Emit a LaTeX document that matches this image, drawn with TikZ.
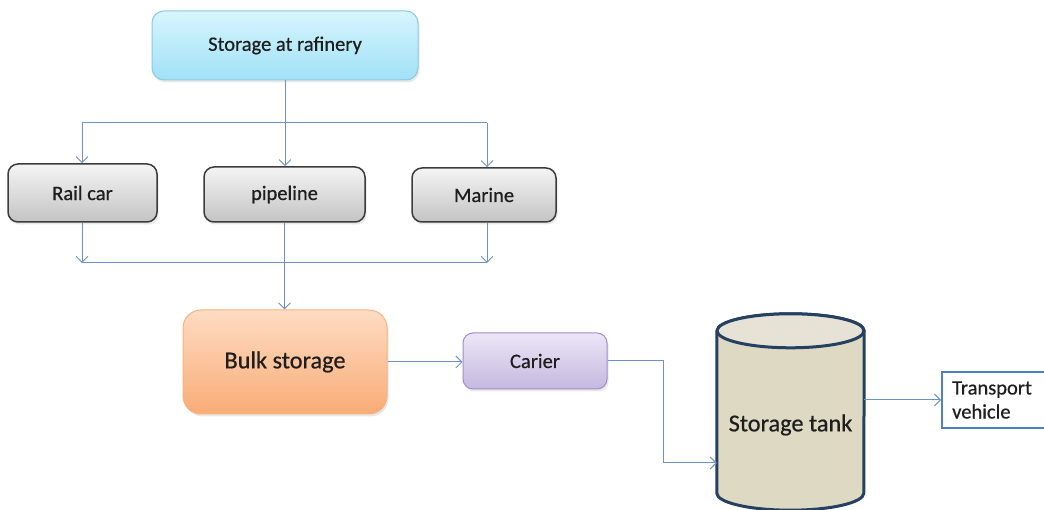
\documentclass[tikz,border=0pt]{standalone}
\usepackage{fontspec}
\setmainfont{Carlito}
\newfontface\diagfont{Carlito}[FakeBold=0.6]
\usetikzlibrary{arrows.meta,shadows}

\definecolor{linkblue}{RGB}{110,145,200}
\definecolor{inkdark}{RGB}{30,30,30}
\definecolor{cyantop}{RGB}{215,245,253}
\definecolor{cyanbot}{RGB}{160,225,247}
\definecolor{cyanrim}{RGB}{140,200,222}
\definecolor{graytop}{RGB}{244,244,244}
\definecolor{graybot}{RGB}{196,196,196}
\definecolor{grayrim}{RGB}{60,60,60}
\definecolor{orgtop}{RGB}{253,220,195}
\definecolor{orgbot}{RGB}{249,172,118}
\definecolor{orgrim}{RGB}{246,180,125}
\definecolor{purtop}{RGB}{236,230,246}
\definecolor{purbot}{RGB}{198,184,224}
\definecolor{purrim}{RGB}{160,142,198}
\definecolor{tankfill}{RGB}{221,217,195}
\definecolor{tanktop}{RGB}{230,227,214}
\definecolor{tankrim}{RGB}{37,64,97}
\definecolor{vehrim}{RGB}{79,129,189}

\tikzset{
  smalltext/.style={font=\diagfont\fontsize{20.5}{24}\selectfont, text=inkdark},
  bigtext/.style={font=\diagfont\fontsize{24.3}{28}\selectfont, text=inkdark},
  softshadow/.style={drop shadow={opacity=0.18, shadow xshift=1.5pt, shadow yshift=-2.5pt}},
  box/.style={draw, inner sep=0pt, shading angle=0, softshadow},
  topbox/.style={box, smalltext, rounded corners=12pt, line width=1pt,
    draw=cyanrim, top color=cyantop, bottom color=cyanbot},
  graybox/.style={box, smalltext, rounded corners=10pt, line width=1.5pt,
    draw=grayrim, top color=graytop, bottom color=graybot},
  bulkbox/.style={box, bigtext, rounded corners=18pt, line width=1pt,
    draw=orgrim, top color=orgtop, bottom color=orgbot},
  carbox/.style={box, smalltext, rounded corners=10pt, line width=1pt,
    draw=purrim, top color=purtop, bottom color=purbot},
  vehbox/.style={draw=vehrim, line width=2pt, fill=white, inner sep=0pt},
  tankline/.style={draw=tankrim, line width=3pt, line join=round},
  link/.style={draw=linkblue, line width=1pt},
  arrowlink/.style={link, -{Straight Barb[length=6pt,width=12pt]}},
}

\begin{document}
\begin{tikzpicture}[x=1pt,y=1pt]
\useasboundingbox (0,0) rectangle (1044,510);
\clip (0,0) rectangle (1044,510);

% ---- boxes ----
\node[topbox, minimum width=266pt, minimum height=69pt] (refinery) at (285,464.5) {Storage at rafinery};

\node[graybox, minimum width=149pt, minimum height=58pt] (rail) at (82.5,317) {Rail car};
\node[graybox, minimum width=161pt, minimum height=55pt] (pipe) at (284.5,315.5) {pipeline};
\node[graybox, minimum width=144pt, minimum height=54pt] (marine) at (484,315) {Marine};

\node[bulkbox, minimum width=204pt, minimum height=104pt] (bulk) at (285,148) {Bulk storage};
\node[carbox, minimum width=144pt, minimum height=56pt] (carier) at (535,149) {Carier};

% ---- storage tank (cylinder) ----
\node[minimum width=147pt, minimum height=162pt, inner sep=0pt] (tank) at (790.5,98) {};
\path[tankline, fill=tankfill]
  (tank.north west) -- (tank.south west)
  arc[start angle=180, end angle=360, x radius=73.5, y radius=17]
  -- (tank.north east)
  arc[start angle=0, end angle=180, x radius=73.5, y radius=17] -- cycle;
\path[tankline, fill=tanktop] (tank.north) ellipse[x radius=73.5, y radius=17];
\node[bigtext] (tanklabel) at (790.5,85) {Storage tank};

\node[vehbox, minimum width=106pt, minimum height=56pt] (vehicle) at (995,110) {};
\node[smalltext, anchor=west, align=left, inner sep=0pt] (vehlabel) at (952,110) {Transport\\vehicle};

% ---- distribution from the refinery ----
\coordinate (jl) at (82,387);
\coordinate (jr) at (487,387);
\draw[arrowlink] (refinery.south) -- (refinery.south |- pipe.north);
\draw[link] (jl) -- (jr);
\draw[arrowlink] (jl) -- (jl |- rail.north);
\draw[arrowlink] (jr) -- (jr |- marine.north);

% ---- collection into bulk storage ----
\coordinate (ml) at (82,247);
\coordinate (mr) at (487,247);
\draw[arrowlink] (jl |- rail.south) -- (ml);
\draw[arrowlink] (jr |- marine.south) -- (mr);
\draw[link] (ml) -- (mr);
\draw[arrowlink] (pipe.south) -- (pipe.south |- bulk.north);

% ---- onward to the tank and vehicle ----
\draw[arrowlink] (bulk.east) -- (bulk.east -| carier.west);
\coordinate (bend) at (663,47);
\draw[arrowlink] (carier.east) -| (bend) -- (bend -| tank.west);
\draw[arrowlink] (tank.east |- vehicle.west) -- (vehicle.west);
\end{tikzpicture}
\end{document}
